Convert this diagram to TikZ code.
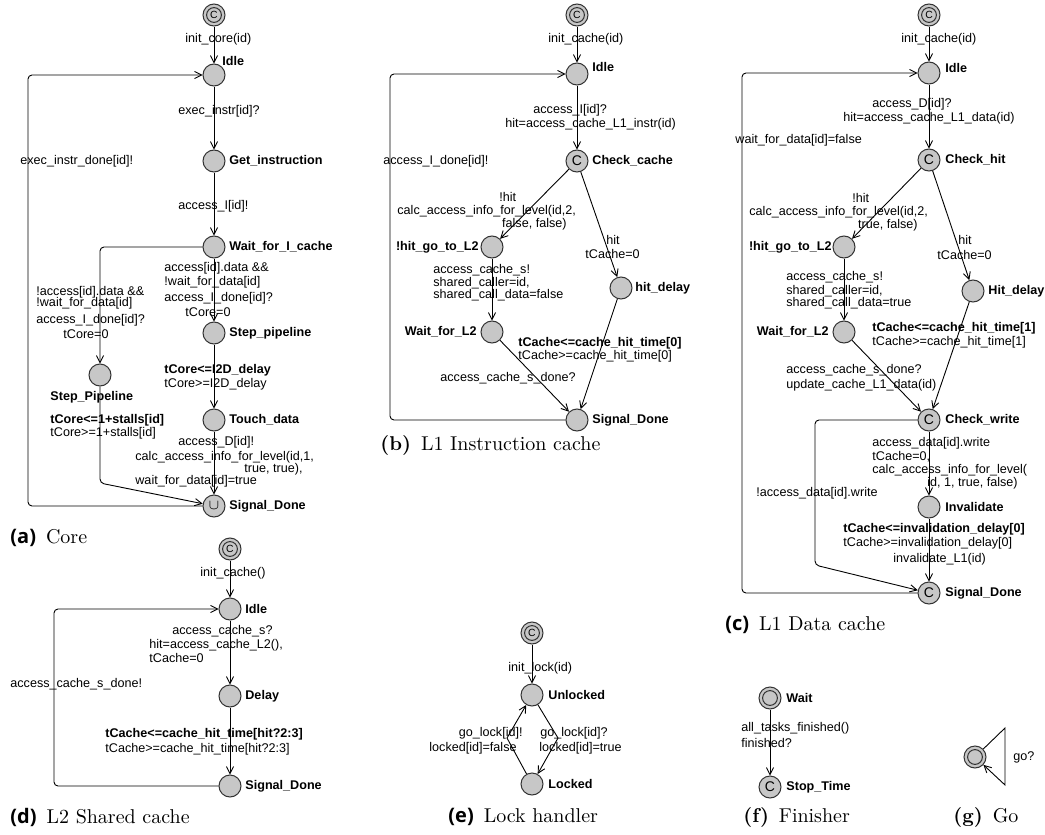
\documentclass[tikz,border=0pt]{standalone}
\usepackage{fontspec}
\usepackage{tikz}
\usetikzlibrary{arrows.meta}
\newfontfamily\upf{Liberation Sans}
\newfontfamily\capsf{Open Sans}

\begin{document}
\begin{tikzpicture}[x=0.5pt,y=-0.5pt,
		loc/.style={circle,draw=black!80,fill=black!22,line width=0.5pt,minimum size=11pt,inner sep=0pt,font=\upf\fontsize{7}{7}\selectfont},
		start/.style={loc,path picture={\draw[black!80,line width=0.5pt] (path picture bounding box.center) circle (3.7pt);}},
		startc/.style={start,font=\upf\fontsize{5.2}{5.2}\selectfont},
		lbl/.style={anchor=west,inner sep=0pt,font=\upf\fontsize{6.3}{7}\selectfont},
		nm/.style={anchor=west,inner sep=0pt,font=\upf\bfseries\fontsize{6.3}{7}\selectfont},
		edge/.style={-{Straight Barb[length=3.5pt,width=3.6pt]},line width=0.45pt},
		subcap/.style={anchor=west,inner sep=0pt,font=\fontsize{10}{12}\selectfont}]
	\useasboundingbox (0,0) rectangle (1045,835);

	% (a) Core
	\node[startc] (a-init) at (214,15) {C};
	\node[loc] (a-idle) at (214,75) {};
	\node[loc] (a-get) at (214,161) {};
	\node[loc] (a-wait) at (214,247) {};
	\node[loc] (a-step) at (214,333) {};
	\node[loc] (a-steppl) at (100,375) {};
	\node[loc] (a-touch) at (214,420) {};
	\node[loc] (a-done) at (214,506) {$\cup$};

	\draw[edge] (a-init) -- (a-idle);
	\draw[edge] (a-idle) -- (a-get);
	\draw[edge] (a-get) -- (a-wait);
	\draw[edge] (a-wait) -- (a-step);
	\draw[edge,rounded corners=2pt] (a-wait) -- (100,247) -- (a-steppl);
	\draw[edge] (a-step) -- (a-touch);
	\draw[edge] (a-touch) -- (a-done);
	\draw[edge,rounded corners=2pt] (a-steppl) -- (100,483) -- (a-done);
	\draw[edge,rounded corners=2pt] (a-done) -- (28,506) -- (28,75) -- (a-idle);

	\node[lbl] (a-l1) at (185,39) {init\_core(id)};
	\node[nm] (a-n1) at (222,61) {Idle};
	\node[lbl] (a-l2) at (178,111) {exec\_instr[id]?};
	\node[nm] (a-n2) at (229,161) {Get\_instruction};
	\node[lbl] (a-l3) at (20,161) {exec\_instr\_done[id]!};
	\node[lbl] (a-l4) at (178,206) {access\_I[id]!};
	\node[nm] (a-n3) at (229,247) {Wait\_for\_I\_cache};
	\node[lbl] (a-l5) at (164,268) {access[id].data \&\&};
	\node[lbl] (a-l6) at (164,282) {!wait\_for\_data[id]};
	\node[lbl] (a-l7) at (164,298) {access\_I\_done[id]?};
	\node[lbl] (a-l8) at (185,312) {tCore=0};
	\node[lbl] (a-l9) at (36,292) {!access[id].data \&\&};
	\node[lbl] (a-l10) at (36,303) {!wait\_for\_data[id]};
	\node[lbl] (a-l11) at (36,320) {access\_I\_done[id]?};
	\node[lbl] (a-l12) at (63,334) {tCore=0};
	\node[nm] (a-n4) at (229,333) {Step\_pipeline};
	\node[nm] (a-n5) at (50,397) {Step\_Pipeline};
	\node[nm] (a-l13) at (50,420) {tCore<=1+stalls[id]};
	\node[lbl] (a-l14) at (50,433) {tCore>=1+stalls[id]};
	\node[nm] (a-l15) at (164,370) {tCore<=I2D\_delay};
	\node[lbl] (a-l16) at (164,384) {tCore>=I2D\_delay};
	\node[nm] (a-n6) at (229,420) {Touch\_data};
	\node[lbl] (a-l17) at (178,442) {access\_D[id]!};
	\node[lbl] (a-l18) at (135,457) {calc\_access\_info\_for\_level(id,1,};
	\node[lbl,anchor=east] (a-l19) at (303,469) {true, true),};
	\node[lbl] (a-l20) at (135,481) {wait\_for\_data[id]=true};
	\node[nm] (a-n7) at (229,506) {Signal\_Done};
	\node[subcap] (a-cap) at (10,538) {{\capsf\bfseries(a)}\enspace Core};

	% (b) L1 Instruction cache
	\node[startc] (b-init) at (577,15) {C};
	\node[loc] (b-idle) at (577,74) {};
	\node[loc] (b-check) at (577,161) {C};
	\node[loc] (b-miss) at (492,247) {};
	\node[loc] (b-hit) at (621,288) {};
	\node[loc] (b-wl2) at (492,332) {};
	\node[loc] (b-done) at (577,420) {};

	\draw[edge] (b-init) -- (b-idle);
	\draw[edge] (b-idle) -- (b-check);
	\draw[edge] (b-check) -- (b-miss);
	\draw[edge] (b-check) -- (b-hit);
	\draw[edge] (b-miss) -- (b-wl2);
	\draw[edge] (b-wl2) -- (b-done);
	\draw[edge] (b-hit) -- (b-done);
	\draw[edge,rounded corners=2pt] (b-done) -- (390,420) -- (390,74) -- (b-idle);

	\node[lbl] (b-l1) at (548,39) {init\_cache(id)};
	\node[nm] (b-n1) at (592,67) {Idle};
	\node[lbl] (b-l2) at (533,110) {access\_I[id]?};
	\node[lbl] (b-l3) at (505,124) {hit=access\_cache\_L1\_instr(id)};
	\node[nm] (b-n2) at (592,161) {Check\_cache};
	\node[lbl] (b-l4) at (383,161) {access\_I\_done[id]!};
	\node[lbl] (b-l5) at (499,197) {!hit};
	\node[lbl] (b-l6) at (397,211) {calc\_access\_info\_for\_level(id,2,};
	\node[lbl,anchor=east] (b-l7) at (567,224) {false, false)};
	\node[nm,anchor=east] (b-n3) at (479,247) {!hit\_go\_to\_L2};
	\node[lbl] (b-l8) at (606,240) {hit};
	\node[lbl] (b-l9) at (585,254) {tCache=0};
	\node[lbl] (b-l10) at (433,270) {access\_cache\_s!};
	\node[lbl] (b-l11) at (433,283) {shared\_caller=id,};
	\node[lbl] (b-l12) at (433,295) {shared\_call\_data=false};
	\node[nm] (b-n4) at (635,288) {hit\_delay};
	\node[nm,anchor=east] (b-n5) at (477,332) {Wait\_for\_L2};
	\node[nm] (b-l13) at (518,343) {tCache<=cache\_hit\_time[0]};
	\node[lbl] (b-l14) at (518,356) {tCache>=cache\_hit\_time[0]};
	\node[lbl] (b-l15) at (440,378) {access\_cache\_s\_done?};
	\node[nm] (b-n6) at (592,420) {Signal\_Done};
	\node[subcap] (b-cap) at (380,445) {\textbf{(b)}\enspace L1 Instruction cache};

	% (c) L1 Data cache
	\node[startc] (c-init) at (929,15) {C};
	\node[loc] (c-idle) at (929,73) {};
	\node[loc] (c-check) at (929,160) {C};
	\node[loc] (c-miss) at (844,247) {};
	\node[loc] (c-hit) at (973,291) {};
	\node[loc] (c-wl2) at (844,332) {};
	\node[loc] (c-write) at (929,420) {C};
	\node[loc] (c-inv) at (929,507) {};
	\node[loc] (c-done) at (929,593) {C};

	\draw[edge] (c-init) -- (c-idle);
	\draw[edge] (c-idle) -- (c-check);
	\draw[edge] (c-check) -- (c-miss);
	\draw[edge] (c-check) -- (c-hit);
	\draw[edge] (c-miss) -- (c-wl2);
	\draw[edge] (c-wl2) -- (c-write);
	\draw[edge] (c-hit) -- (c-write);
	\draw[edge] (c-write) -- (c-inv);
	\draw[edge] (c-inv) -- (c-done);
	\draw[edge,rounded corners=2pt] (c-write) -- (815,420) -- (815,565) -- (c-done);
	\draw[edge,rounded corners=2pt] (c-done) -- (742,593) -- (742,73) -- (c-idle);

	\node[lbl] (c-l1) at (901,39) {init\_cache(id)};
	\node[nm] (c-n1) at (945,68) {Idle};
	\node[lbl] (c-l2) at (872,104) {access\_D[id]?};
	\node[lbl] (c-l3) at (843,118) {hit=access\_cache\_L1\_data(id)};
	\node[lbl] (c-l4) at (735,140) {wait\_for\_data[id]=false};
	\node[nm] (c-n2) at (945,160) {Check\_hit};
	\node[lbl] (c-l5) at (852,198) {!hit};
	\node[lbl] (c-l6) at (749,212) {calc\_access\_info\_for\_level(id,2,};
	\node[lbl,anchor=east] (c-l7) at (918,225) {true, false)};
	\node[nm,anchor=east] (c-n3) at (832,247) {!hit\_go\_to\_L2};
	\node[lbl] (c-l8) at (958,240) {hit};
	\node[lbl] (c-l9) at (937,255) {tCache=0};
	\node[lbl] (c-l10) at (786,277) {access\_cache\_s!};
	\node[lbl] (c-l11) at (786,291) {shared\_caller=id,};
	\node[lbl] (c-l12) at (786,303) {shared\_call\_data=true};
	\node[nm] (c-n4) at (988,291) {Hit\_delay};
	\node[nm,anchor=east] (c-n5) at (829,332) {Wait\_for\_L2};
	\node[nm] (c-l13) at (872,328) {tCache<=cache\_hit\_time[1]};
	\node[lbl] (c-l14) at (872,342) {tCache>=cache\_hit\_time[1]};
	\node[lbl] (c-l15) at (786,370) {access\_cache\_s\_done?};
	\node[lbl] (c-l16) at (786,385) {update\_cache\_L1\_data(id)};
	\node[nm] (c-n6) at (945,420) {Check\_write};
	\node[lbl] (c-l17) at (872,443) {access\_data[id].write};
	\node[lbl] (c-l18) at (872,457) {tCache=0,};
	\node[lbl] (c-l19) at (872,470) {calc\_access\_info\_for\_level(};
	\node[lbl,anchor=east] (c-l20) at (1018,483) {id, 1, true, false)};
	\node[lbl] (c-l21) at (756,493) {!access\_data[id].write};
	\node[nm] (c-n7) at (945,507) {Invalidate};
	\node[nm] (c-l22) at (843,529) {tCache<=invalidation\_delay[0]};
	\node[lbl] (c-l23) at (843,543) {tCache>=invalidation\_delay[0]};
	\node[lbl] (c-l24) at (893,559) {invalidate\_L1(id)};
	\node[nm] (c-n8) at (945,593) {Signal\_Done};
	\node[subcap] (c-cap) at (725,625) {{\capsf\bfseries(c)}\enspace L1 Data cache};

	% (d) L2 Shared cache
	\node[startc] (d-init) at (230,549) {C};
	\node[loc] (d-idle) at (230,609) {};
	\node[loc] (d-delay) at (230,696) {};
	\node[loc] (d-done) at (230,786) {};

	\draw[edge] (d-init) -- (d-idle);
	\draw[edge] (d-idle) -- (d-delay);
	\draw[edge] (d-delay) -- (d-done);
	\draw[edge,rounded corners=2pt] (d-done) -- (54,786) -- (54,609) -- (d-idle);

	\node[lbl] (d-l1) at (200,573) {init\_cache()};
	\node[nm] (d-n1) at (245,609) {Idle};
	\node[lbl] (d-l2) at (172,631) {access\_cache\_s?};
	\node[lbl] (d-l3) at (149,645) {hit=access\_cache\_L2(),};
	\node[lbl] (d-l4) at (149,658) {tCache=0};
	\node[lbl] (d-l5) at (10,684) {access\_cache\_s\_done!};
	\node[nm] (d-n2) at (245,696) {Delay};
	\node[nm] (d-l6) at (105,734) {tCache<=cache\_hit\_time[hit?2:3]};
	\node[lbl] (d-l7) at (105,749) {tCache>=cache\_hit\_time[hit?2:3]};
	\node[nm] (d-n3) at (245,786) {Signal\_Done};
	\node[subcap] (d-cap) at (10,817) {{\capsf\bfseries(d)}\enspace L2 Shared cache};

	% (e) Lock handler
	\node[startc] (e-init) at (532,633) {C};
	\node[loc] (e-unl) at (532,695) {};
	\node[loc] (e-lock) at (532,784) {};

	\draw[edge] (e-init) -- (e-unl);
	\draw[edge] (e-lock) -- (507,738) -- (e-unl);
	\draw[edge] (e-unl) -- (558,738) -- (e-lock);

	\node[lbl] (e-l1) at (508,668) {init\_lock(id)};
	\node[nm] (e-n1) at (548,695) {Unlocked};
	\node[lbl,anchor=east] (e-l2) at (523,733) {go\_lock[id]!};
	\node[lbl,anchor=east] (e-l3) at (517,748) {locked[id]=false};
	\node[lbl] (e-l4) at (540,733) {go\_lock[id]?};
	\node[lbl] (e-l5) at (539,748) {locked[id]=true};
	\node[nm] (e-n2) at (548,784) {Locked};
	\node[subcap] (e-cap) at (448,817) {{\capsf\bfseries(e)}\enspace Lock handler};

	% (f) Finisher
	\node[start] (f-wait) at (770,698) {};
	\node[loc] (f-stop) at (770,787) {C};

	\draw[edge] (f-wait) -- (f-stop);

	\node[nm] (f-n1) at (786,698) {Wait};
	\node[lbl] (f-l1) at (741,728) {all\_tasks\_finished()};
	\node[lbl] (f-l2) at (741,743) {finished?};
	\node[nm] (f-n2) at (786,787) {Stop\_Time};
	\node[subcap] (f-cap) at (743,817) {\textbf{(f)}\enspace Finisher};

	% (g) Go
	\node[start] (g-go) at (975,757) {};

	\draw[edge] (g-go) -- (1005,728) -- (1005,785) -- (g-go);

	\node[lbl] (g-l1) at (1013,757) {go?};
	\node[subcap] (g-cap) at (953,817) {\textbf{(g)}\enspace Go};
\end{tikzpicture}
\end{document}
